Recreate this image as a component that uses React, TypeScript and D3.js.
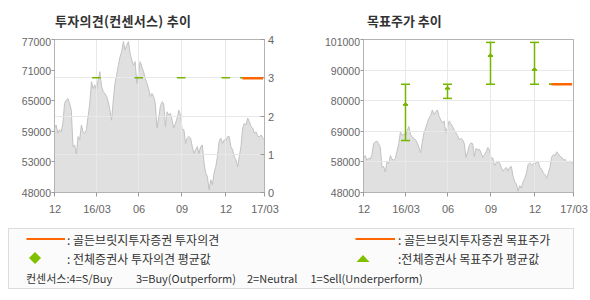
import React from 'react';
import * as d3 from 'd3';

// daily closing price (evenly spaced from 2015-12 to 2017-03)
const price = [
  60200, 60800, 59200, 59900, 59500, 61100, 64900, 65500, 65800, 64900,
  63600, 56700, 57000, 55100, 58600, 58000, 60800, 59500, 59200, 59900,
  62400, 64900, 69000, 67700, 68400, 67400, 69300, 70900, 68100, 67100,
  66800, 66200, 65200, 63600, 61700, 65500, 68700, 70300, 72100, 73700,
  74700, 76600, 75000, 75900, 76600, 74400, 73100, 72100, 72800, 68700,
  70600, 72800, 71800, 70900, 69600, 68700, 67700, 66200, 66800, 66200,
  64900, 60200, 62100, 64300, 65200, 64900, 60500, 63300, 62700, 63000,
  61700, 60200, 61100, 62100, 63600, 62700, 59900, 59900, 57300, 58300,
  58600, 58300, 56700, 55400, 56100, 56700, 55400, 56700, 57000, 53600,
  51700, 51000, 48500, 50400, 49500, 51700, 52900, 54800, 57700, 58300,
  57300, 58000, 57700, 58600, 58600, 56700, 56100, 54800, 54200, 52900,
  54800, 56700, 60200, 61100, 60800, 62100, 61400, 60500, 60200, 59200,
  59500, 58600, 58600, 58900, 58300, 58000,
];

const leftPriceLabels = ['77000', '71000', '65000', '59000', '53000', '48000'];
const rightPriceLabels = ['101000', '90000', '80000', '69000', '58000', '48000'];
const ratingLabels = ['0', '1', '2', '3', '4'];
const xTickDates = ['2015-12-01', '2016-03-01', '2016-06-01', '2016-09-01', '2016-12-07', '2017-03-01'];
const xTickLabels = ['12', '16/03', '06', '09', '12', '17/03'];

const consensusDates = ['2016-03-01', '2016-06-01', '2016-09-01', '2016-12-07', '2017-01-16'];
const consensusRating = [3, 3, 3, 3, 3];
const targetMin = [66000, 80600, 85500, 85500, 85500];
const targetAvg = [78300, 83900, 95200, 90400, 85500];
const targetMax = [85500, 85500, 100000, 100000, 85500];

const gbPeriod = ['2017-01-12', '2017-02-26'];
const gbRating = 3;
const gbTarget = 85500;

const parse = d3.timeParse('%Y-%m-%d');
const GREEN = '#76b500';
const ORANGE = '#ff6600';
const AXIS = '#b4b4b4';
const GRID = '#e8e8e8';
const LABEL = '#666';
const FONT_NUM = '"Liberation Sans", Arial, sans-serif';
const FONT_KR = '"Noto Sans CJK KR", sans-serif';

const Y0 = 39.5;
const Y1 = 192.5;

function Panel({ x0, x1, priceMin, priceMax, priceLabels, kind }: any) {
  const xTime = d3.scaleTime()
    .domain([parse(xTickDates[0])!, parse(xTickDates[xTickDates.length - 1])!])
    .range([x0, x1]);
  const xIdx = d3.scaleLinear().domain([0, price.length - 1]).range([x0, x1]);
  const yPrice = d3.scaleLinear().domain([priceMin, priceMax]).range([Y1, Y0]);
  const yRating = d3.scaleLinear().domain([0, ratingLabels.length - 1]).range([Y1, Y0]);
  const nLab = priceLabels.length;
  const labelVal = (i: number) => priceMax - (i * (priceMax - priceMin)) / (nLab - 1);

  const area = d3.area<number>()
    .x((_, i) => xIdx(i))
    .y0(Y1)
    .y1((d) => yPrice(d));
  const line = d3.line<number>()
    .x((_, i) => xIdx(i))
    .y((d) => yPrice(d));

  const hGrid = kind === 'rating'
    ? ratingLabels.slice(1, -1).map((_, i) => Math.floor(yRating(i + 1)) + 0.5)
    : priceLabels.slice(1, -1).map((_, i) => Math.floor(yPrice(labelVal(i + 1))) + 0.5);
  const vTicks = xTickDates.map((d) => Math.floor(xTime(parse(d)!)) + 0.5);

  return (
    <g>
      <path d={area(price)!} fill="#e0e0e0" />
      <path d={line(price)!} fill="none" stroke="#c2c2c2" strokeWidth={1} />
      {hGrid.map((y, i) => (
        <line key={'h' + i} x1={x0} x2={x1} y1={y} y2={y} stroke={GRID} strokeWidth={1} />
      ))}
      {vTicks.slice(1, -1).map((x, i) => (
        <line key={'v' + i} x1={x} x2={x} y1={Y0} y2={Y1} stroke={GRID} strokeWidth={1} />
      ))}
      <rect x={x0} y={Y0} width={x1 - x0} height={Y1 - Y0} fill="none" stroke={AXIS} strokeWidth={1} />
      {priceLabels.map((lab: string, i: number) => {
        const y = Math.floor(yPrice(labelVal(i))) + 0.5;
        return (
          <g key={'pl' + i}>
            <line x1={x0 - 3} x2={x0} y1={y} y2={y} stroke="#999" />
            <text x={x0 - 3.5} y={y + (i === 0 ? 2 : 0.5)} textAnchor="end" dominantBaseline="central"
              fontFamily={FONT_NUM} fontSize={10.5} fill={LABEL}>{lab}</text>
          </g>
        );
      })}
      {xTickLabels.map((lab, i) => (
        <g key={'xl' + i}>
          <line x1={vTicks[i]} x2={vTicks[i]} y1={Y1} y2={Y1 + 4} stroke="#999" />
          <text x={vTicks[i] + 0.5} y={209} textAnchor="middle" dominantBaseline="central"
            fontFamily={FONT_NUM} fontSize={11} fill={LABEL}>{lab}</text>
        </g>
      ))}
      {kind === 'rating' && (
        <g>
          {ratingLabels.map((lab, i) => {
            const y = Math.floor(yRating(i)) + 0.5;
            return (
              <g key={'rl' + i}>
                <line x1={x1 - 4} x2={x1} y1={y} y2={y} stroke="#999" />
                <text x={x1 + 3.5} y={y} dominantBaseline="central"
                  fontFamily={FONT_NUM} fontSize={11} fill={LABEL}>{lab}</text>
              </g>
            );
          })}
          {consensusDates.map((d, i) => {
            const cx = xTime(parse(d)!);
            const y = yRating(consensusRating[i]);
            return <line key={'c' + i} x1={cx - 4.3} x2={cx + 4.3} y1={y} y2={y} stroke={GREEN} strokeWidth={1.5} />;
          })}
          <line x1={xTime(parse(gbPeriod[0])!)} x2={xTime(parse(gbPeriod[1])!)}
            y1={yRating(gbRating) + 0.5} y2={yRating(gbRating) + 0.5} stroke={ORANGE} strokeWidth={2.5} />
        </g>
      )}
      {kind === 'target' && (
        <g>
          {consensusDates.map((d, i) => {
            const cx = Math.floor(xTime(parse(d)!)) + 0.5;
            const yt = yPrice(targetMax[i]);
            const yb = yPrice(targetMin[i]);
            const ya = yPrice(targetAvg[i]);
            return (
              <g key={'t' + i} stroke={GREEN} strokeWidth={1.5}>
                <line x1={cx} x2={cx} y1={yt} y2={yb} />
                <line x1={cx - 4.5} x2={cx + 4.5} y1={yt} y2={yt} />
                <line x1={cx - 4.5} x2={cx + 4.5} y1={yb} y2={yb} />
                {targetMin[i] !== targetMax[i] && (
                  <g>
                    <line x1={cx - 2.5} x2={cx + 2.5} y1={ya} y2={ya} />
                    <path d={`M${cx - 2.5},${ya} L${cx},${ya - 2.5} L${cx + 2.5},${ya} Z`} fill={GREEN} strokeWidth={0.8} />
                  </g>
                )}
              </g>
            );
          })}
          <line x1={xTime(parse(gbPeriod[0])!)} x2={xTime(parse(gbPeriod[1])!)}
            y1={yPrice(gbTarget)} y2={yPrice(gbTarget)} stroke={ORANGE} strokeWidth={2.5} />
        </g>
      )}
    </g>
  );
}

export default function App() {
  return (
    <div style={{ position: 'absolute', left: 0, top: 0 }}>
      <svg width={590} height={300} style={{ display: 'block', background: '#fff' }}>
        <text x={55} y={20.5} dominantBaseline="central" fontFamily={FONT_KR} fontSize={13}
          fontWeight="bold" fill="#333" letterSpacing={0.3}>투자의견(컨센서스) 추이</text>
        <text x={367} y={20.5} dominantBaseline="central" fontFamily={FONT_KR} fontSize={13}
          fontWeight="bold" fill="#333">목표주가 추이</text>

        <Panel x0={54.5} x1={264.5} priceMin={48000} priceMax={77000} priceLabels={leftPriceLabels} kind="rating" />
        <Panel x0={363.5} x1={573.5} priceMin={48000} priceMax={101000} priceLabels={rightPriceLabels} kind="target" />

        <rect x={8.5} y={228.5} width={565} height={60} fill="#fbfbfb" stroke="#dcdcdc" />
        <line x1={26.5} x2={65} y1={239} y2={239} stroke={ORANGE} strokeWidth={2} />
        <text x={67} y={239} dominantBaseline="central" fontFamily={FONT_KR} fontSize={12} fill="#333">: 골든브릿지투자증권 투자의견</text>
        <path d="M35,252 L41,258 L35,264 L29,258 Z" fill="#80c000" />
        <text x={67} y={258} dominantBaseline="central" fontFamily={FONT_KR} fontSize={12} fill="#333">: 전체증권사 투자의견 평균값</text>

        <line x1={355.5} x2={395} y1={239} y2={239} stroke={ORANGE} strokeWidth={2} />
        <text x={398} y={239} dominantBaseline="central" fontFamily={FONT_KR} fontSize={12} fill="#333">: 골든브릿지투자증권 목표주가</text>
        <path d="M356.5,262 L369.5,262 L363,255 Z" fill="#80c000" />
        <text x={398} y={258} dominantBaseline="central" fontFamily={FONT_KR} fontSize={12} fill="#333">:전체증권사 목표주가 평균값</text>

        <g fontFamily={FONT_KR} fontSize={11} fill="#333">
          <text x={26} y={277.5} dominantBaseline="central">컨센서스:4=S/Buy</text>
          <text x={136} y={277.5} dominantBaseline="central">3=Buy(Outperform)</text>
          <text x={247} y={277.5} dominantBaseline="central">2=Neutral</text>
          <text x={310.5} y={277.5} dominantBaseline="central">1=Sell(Underperform)</text>
        </g>
      </svg>
    </div>
  );
}
